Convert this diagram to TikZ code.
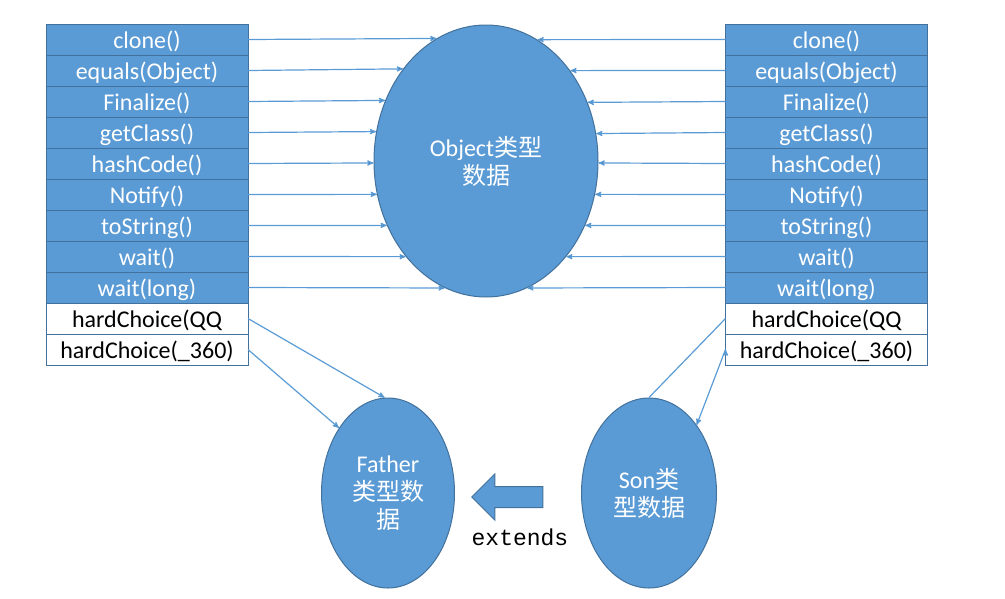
\documentclass[tikz,border=0pt]{standalone}
\usepackage{fontspec}
\setmainfont{Carlito}
\newfontfamily\cjk{Noto Sans CJK SC}
\newfontfamily\codefont{Liberation Mono}
\usepackage{xcolor}
\usetikzlibrary{arrows,positioning,shapes.geometric,shapes.arrows}

\definecolor{boxblue}{HTML}{5B9BD5}
\definecolor{rim}{HTML}{41719C}

\begin{document}
\begin{tikzpicture}[->, >=stealth', semithick, x=1pt, y=-1pt, node distance=0pt]
	\tikzstyle{method}=[rectangle,draw=rim,fill=boxblue,text=white,line width=1pt,outer sep=0pt,minimum width=202pt,minimum height=31pt,inner sep=0pt,text height=18pt,text depth=1pt,font=\fontsize{24}{28}\selectfont]
	\tikzstyle{own}=[method,fill=white,text=black]
	\tikzstyle{data}=[ellipse,draw=rim,fill=boxblue,text=white,line width=1pt,inner sep=0pt,align=center,font=\fontsize{24}{28}\selectfont]
	\tikzstyle{link}=[draw=boxblue,line width=1.2pt]
	\useasboundingbox (0,0) rectangle (1005,598);
	% left column
	\node[method] (l0) at (147,39.5) {clone()};
	\node[method] (l1) [below=of l0] {equals(Object)};
	\node[method] (l2) [below=of l1] {Finalize()};
	\node[method] (l3) [below=of l2] {getClass()};
	\node[method] (l4) [below=of l3] {hashCode()};
	\node[method] (l5) [below=of l4] {Notify()};
	\node[method] (l6) [below=of l5] {toString()};
	\node[method] (l7) [below=of l6] {wait()};
	\node[method] (l8) [below=of l7] {wait(long)};
	\node[own]    (l9) [below=of l8] {hardChoice(QQ};
	\node[own]    (l10)[below=of l9] {hardChoice(\_360)};
	% right column
	\node[method] (r0) at (826.5,39.5) {clone()};
	\node[method] (r1) [below=of r0] {equals(Object)};
	\node[method] (r2) [below=of r1] {Finalize()};
	\node[method] (r3) [below=of r2] {getClass()};
	\node[method] (r4) [below=of r3] {hashCode()};
	\node[method] (r5) [below=of r4] {Notify()};
	\node[method] (r6) [below=of r5] {toString()};
	\node[method] (r7) [below=of r6] {wait()};
	\node[method] (r8) [below=of r7] {wait(long)};
	\node[own]    (r9) [below=of r8] {hardChoice(QQ};
	\node[own]    (r10)[below=of r9] {hardChoice(\_360)};
	% data
	\node[data,minimum width=224pt,minimum height=272pt] (obj) at (486,161) {Object{\cjk 类型}\\{\cjk 数据}};
	\node[data,minimum width=133pt,minimum height=190pt] (fat) at (388,493) {Father\\{\cjk 类型数}\\{\cjk 据}};
	\node[data,minimum width=135pt,minimum height=190pt] (son) at (649,493) {Son{\cjk 类}\\{\cjk 型数据}};
	\node[single arrow,shape border rotate=180,draw=rim,fill=boxblue,line width=1pt,minimum height=71pt,minimum width=45pt,inner sep=10pt,single arrow head extend=12.5pt] (inh) at (512.5,497) {};
	\node[font=\codefont\fontsize{23}{26}\selectfont] (ext) at (520,537) {extends};
	\path[link]
	(l0.east) edge (obj.112.5)
	(l1.east) edge (obj.132.7)
	(l2.east) edge (obj.149.4)
	(l3.east) edge (obj.165.4)
	(l4.east) edge (obj.181.3)
	(l5.east) edge (obj.197.2)
	(l6.east) edge (obj.213.2)
	(l7.east) edge (obj.230.2)
	(l8.east) edge (obj.252)
	(r0.west) edge (obj.67.5)
	(r1.west) edge (obj.47.3)
	(r2.west) edge (obj.30.6)
	(r3.west) edge (obj.14.6)
	(r4.west) edge (obj.-1.3)
	(r5.west) edge (obj.-17.2)
	(r6.west) edge (obj.-33.2)
	(r7.west) edge (obj.-50.2)
	(r8.west) edge (obj.-72)
	(l9.east) edge (fat.92)
	(l10.east) edge (fat.127)
	(r9.west) edge[-] (son.north)
	(r10.west) edge (son.55);
\end{tikzpicture}
\end{document}
